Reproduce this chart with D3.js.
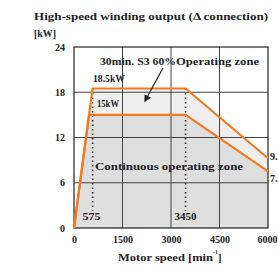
<!DOCTYPE html>
<html><head><meta charset="utf-8">
<script src="https://cdn.jsdelivr.net/npm/d3@7"></script>
<style>body{margin:0;background:#fff;}svg{display:block;}text{font-family:"Liberation Serif","DejaVu Serif",serif;font-weight:bold;fill:#222;}</style>
</head><body>
<script>
const xTicks = [0, 1500, 3000, 4500, 6000];
const yTicks = [0, 6, 12, 18, 24];
const s3Speed = [0, 575, 3450, 6000];
const s3Power = [0, 18.5, 18.5, 9.25];
const contSpeed = [0, 466, 3450, 6000];
const contPower = [0, 15, 15, 7.5];
const markSpeeds = [575, 3450];

const W = 278, H = 270;
const svg = d3.select("body").append("svg").attr("width", W).attr("height", H);
const x = d3.scaleLinear().domain([0, 6000]).range([74, 268]);
const y = d3.scaleLinear().domain([0, 24]).range([228, 47]);

const s3 = s3Speed.map((s, i) => [s, s3Power[i]]);
const cont = contSpeed.map((s, i) => [s, contPower[i]]);

const area = d3.area().x(d => x(d[0])).y0(y(0)).y1(d => y(d[1]));
svg.append("path").datum(s3).attr("d", area).attr("fill", "#eeeeee");
svg.append("path").datum(cont).attr("d", area).attr("fill", "#dedede");

// grid
svg.append("g").selectAll("line").data(xTicks.slice(1, -1)).join("line")
  .attr("x1", d => x(d)).attr("x2", d => x(d)).attr("y1", y(0)).attr("y2", y(24))
  .attr("stroke", "#444").attr("stroke-width", 1);
svg.append("g").selectAll("line").data(yTicks.slice(1, -1)).join("line")
  .attr("y1", d => y(d)).attr("y2", d => y(d)).attr("x1", x(0)).attr("x2", x(6000))
  .attr("stroke", "#444").attr("stroke-width", 1);
svg.append("rect").attr("x", x(0)).attr("y", y(24)).attr("width", x(6000) - x(0)).attr("height", y(0) - y(24))
  .attr("fill", "none").attr("stroke", "#222").attr("stroke-width", 1.2);

// dotted markers
svg.append("g").selectAll("line").data(markSpeeds).join("line")
  .attr("x1", d => x(d)).attr("x2", d => x(d)).attr("y1", y(18.5)).attr("y2", y(2.3))
  .attr("stroke", "#222").attr("stroke-width", 1.6).attr("stroke-dasharray", "1.5,3");

const line = d3.line().x(d => x(d[0])).y(d => y(d[1]));
svg.append("path").datum(cont).attr("d", line).attr("fill", "none").attr("stroke", "#f47a22").attr("stroke-width", 2.2);
svg.append("path").datum(s3).attr("d", line).attr("fill", "none").attr("stroke", "#f47a22").attr("stroke-width", 2.2);

// axes labels
const xAxis = d3.axisBottom(x).tickValues(xTicks).tickFormat(d3.format("d")).tickSize(0).tickPadding(8);
const gx = svg.append("g").attr("transform", `translate(0,${y(0)})`).call(xAxis);
gx.select(".domain").remove();
gx.selectAll("text").style("font-size", "10px").style("font-family", "Liberation Serif").style("font-weight", "bold").attr("fill", "#222");
gx.selectAll(".tick").filter(d => d === 6000).select("text").attr("text-anchor", "end").attr("dx", "9");
const yAxis = d3.axisLeft(y).tickValues(yTicks).tickSize(0).tickPadding(9);
const gy = svg.append("g").attr("transform", `translate(${x(0)},0)`).call(yAxis);
gy.select(".domain").remove();
gy.selectAll("text").style("font-size", "10px").style("font-family", "Liberation Serif").style("font-weight", "bold").attr("fill", "#222");

function label(t, px, py, size, anchor, len) {
  const el = svg.append("text").attr("x", px).attr("y", py).attr("font-size", size)
    .attr("text-anchor", anchor || "start").text(t);
  if (len) el.attr("textLength", len).attr("lengthAdjust", "spacingAndGlyphs");
  return el;
}
label("High-speed winding output (\u0394 connection)", 34, 20, 11, "start", 234);
label("[kW]", 34, 37, 11, "start", 22);
label("30min. S3 60%", 100, 65, 10.5, "start", 76);
label("Operating zone", 176, 65, 10.5, "start", 83);
label("18.5kW", 93, 82, 10.5, "start", 32);
label("15kW", 97, 107, 10.5, "start", 22);
label("Continuous operating zone", 95, 170, 10.5, "start", 148);
label("575", x(575) - 10, 220, 10, "start", 18);
label("3450", x(3450), 220, 10, "middle", 22);
label("9.25", 270, 160, 10, "start");
label("7.5", 270, 182, 10, "start");
label("Motor speed [min", 118, 261, 10.5, "start", 95);
label("-1", 213, 254, 7, "start", 5);
label("]", 218, 261, 10.5, "start");

// arrow
svg.append("defs").append("marker").attr("id", "ah").attr("viewBox", "0 0 10 10")
  .attr("refX", 8).attr("refY", 5).attr("markerWidth", 6).attr("markerHeight", 6).attr("orient", "auto")
  .append("path").attr("d", "M0,0L10,5L0,10z").attr("fill", "#222");
svg.append("line").attr("x1", 163).attr("y1", 68).attr("x2", 145).attr("y2", 101)
  .attr("stroke", "#222").attr("stroke-width", 1.2).attr("marker-end", "url(#ah)");
</script>
</body></html>
